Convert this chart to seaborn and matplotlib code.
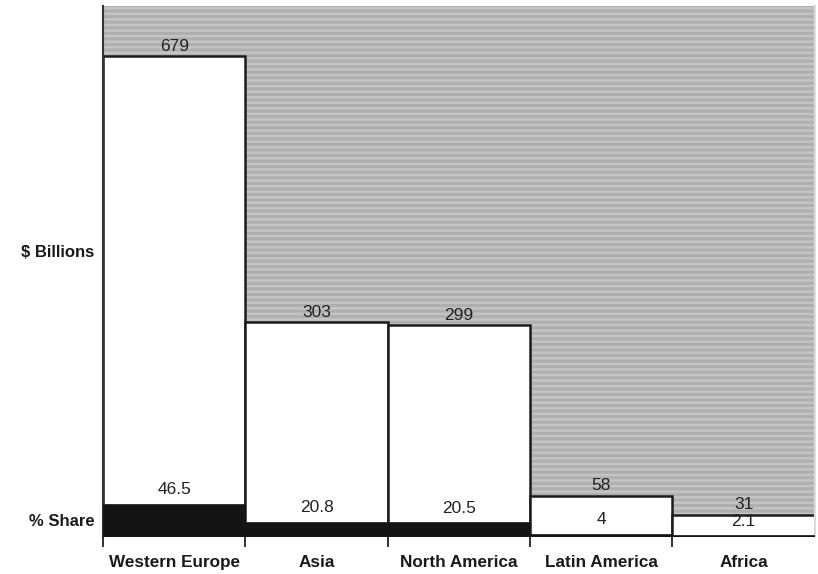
import matplotlib
matplotlib.use("Agg")
import matplotlib.pyplot as plt
from matplotlib.patches import Rectangle
import seaborn as sns
import pandas as pd

# World market by region
regions = ["Western Europe", "Asia", "North America", "Latin America", "Africa"]
billions = [679, 303, 299, 58, 31]
billions_labels = ["679", "303", "299", "58", "31"]
share = [46.5, 20.8, 20.5, 4, 2.1]
share_labels = ["46.5", "20.8", "20.5", "4", "2.1"]
axis_labels = ["$ Billions", "% Share"]
axis_label_pos = [404, 24]

df = pd.DataFrame({"region": regions, "billions": billions, "share": share})

sns.set_theme(style="white")
plt.rcParams["font.family"] = ["Liberation Sans", "DejaVu Sans"]
plt.rcParams["hatch.linewidth"] = 1.8

fig = plt.figure(figsize=(8.18, 5.74), dpi=100)
ax = fig.add_axes([0.126, 0.0645, 0.87, 0.925])

# striped grey backdrop
ax.set_facecolor("#afafaf")
ax.add_patch(Rectangle((0, 0), 1, 1, transform=ax.transAxes, facecolor="none",
                       edgecolor="#c4c4c4", hatch="---", linewidth=0, zorder=0))

sns.barplot(data=df, x="region", y="billions", color="white", saturation=1,
            width=1, edgecolor="#1c1c1c", linewidth=1.8, ax=ax, zorder=2)
sns.barplot(data=df, x="region", y="share", color="#141414", saturation=1,
            width=1, edgecolor="#141414", linewidth=0.5, ax=ax, zorder=3)

for i, (v, lab) in enumerate(zip(billions, billions_labels)):
    ax.annotate(lab, (i, v), xytext=(0, 2), textcoords="offset points",
                ha="center", va="bottom", fontsize=12.5, color="#222222", zorder=5)
for i, (v, lab) in enumerate(zip(share, share_labels)):
    ax.annotate(lab, (i, v), xytext=(0, 5), textcoords="offset points",
                ha="center", va="bottom", fontsize=12.5, color="#222222", zorder=5)

ax.set_xlim(-0.5, len(regions) - 0.5)
ax.set_ylim(0, 750)

# tick marks on bar boundaries, labels at bar centres
ax.set_xticks([i - 0.5 for i in range(len(regions))])
ax.set_xticklabels([])
ax.set_xticks(range(len(regions)), minor=True)
ax.set_xticklabels(regions, minor=True, fontsize=12.3, fontweight="bold", color="#1a1a1a")
ax.tick_params(axis="x", which="major", length=7, width=1.3, color="#222222",
               direction="out", bottom=True)
ax.tick_params(axis="x", which="minor", length=0, pad=13, bottom=True)

ax.set_yticks(axis_label_pos)
ax.set_yticklabels(axis_labels, fontsize=12, fontweight="bold", color="#1a1a1a")
ax.tick_params(axis="y", length=0, pad=6)

ax.set_xlabel("")
ax.set_ylabel("")
ax.spines["top"].set_visible(False)
ax.spines["bottom"].set_visible(False)
ax.spines["left"].set_color("#333333")
ax.spines["left"].set_linewidth(1.5)
ax.spines["right"].set_color("#dcdcdc")
ax.spines["right"].set_linewidth(1.5)

fig.savefig("out.png", dpi=100)
